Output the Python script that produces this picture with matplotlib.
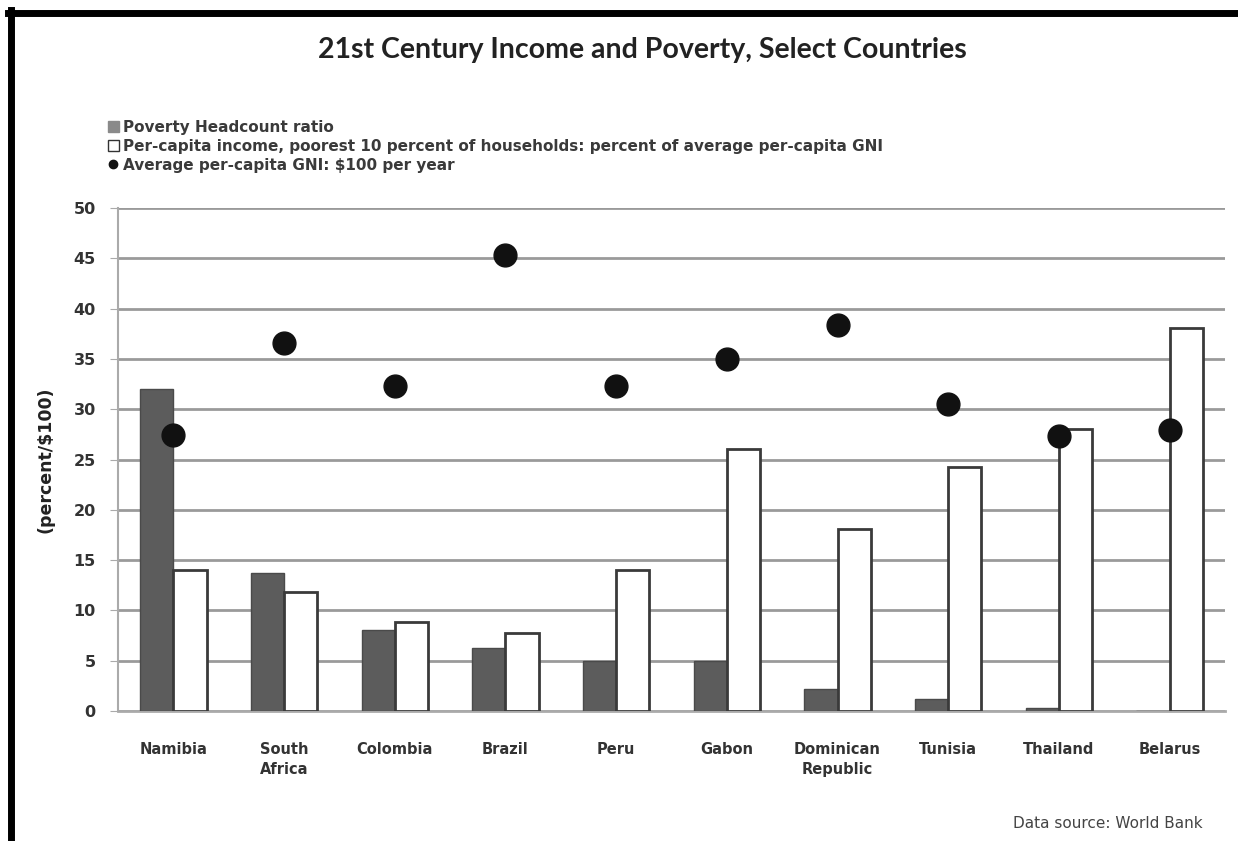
import matplotlib
matplotlib.use("Agg")
import matplotlib.pyplot as plt
import numpy as np
from matplotlib.lines import Line2D
from matplotlib.patches import Patch

plt.rcParams['font.family'] = ['DejaVu Sans']

countries = ["Namibia", "South\nAfrica", "Colombia", "Brazil", "Peru", "Gabon",
             "Dominican\nRepublic", "Tunisia", "Thailand", "Belarus"]
poverty_headcount = [32.0, 13.7, 8.1, 6.3, 5.0, 5.0, 2.2, 1.2, 0.3, 0.0]
poorest_income_share = [14.0, 11.8, 8.8, 7.8, 14.0, 26.0, 18.1, 24.3, 28.0, 38.1]
avg_gni_hundreds = [27.4, 36.6, 32.3, 45.3, 32.3, 35.0, 38.4, 30.5, 27.3, 27.9]
yticks = list(range(0, 55, 5))

fig = plt.figure(figsize=(12.38, 8.41), dpi=100)
ax = fig.add_axes([118 / 1238, 1 - 711 / 841, 1107 / 1238, 503 / 841])

x = np.arange(len(countries))
w = 0.3
ax.bar(x - w / 2, poverty_headcount, width=w, color="#5c5c5c", edgecolor="#4a4a4a",
       linewidth=1.0, zorder=3, label="Poverty Headcount ratio")
ax.bar(x + w / 2, poorest_income_share, width=w, color="white", edgecolor="#3a3a3a",
       linewidth=2.0, zorder=3,
       label="Per-capita income, poorest 10 percent of households: percent of average per-capita GNI")
ax.scatter(x, avg_gni_hundreds, s=270, color="#111111", zorder=4,
           label="Average per-capita GNI: $100 per year")

ax.set_xlim(-0.5, len(countries) - 0.5)
ax.set_ylim(0, 50)
ax.set_yticks(yticks)
ax.set_yticklabels([str(v) for v in yticks], fontsize=11.5, color="#333333",
                   fontweight="bold")
ax.set_xticks(x)
ax.set_xticklabels(countries, fontsize=10.5, color="#333333", fontweight="bold",
                   linespacing=1.45)
ax.tick_params(axis="y", length=6, color="#aaaaaa", pad=10)
ax.tick_params(axis="x", length=0, pad=22)
ax.yaxis.grid(True, color="#9a9a9a", linewidth=2.0, zorder=0)
for s in ["top", "right"]:
    ax.spines[s].set_visible(False)
ax.spines["left"].set_color("#aaaaaa")
ax.spines["left"].set_linewidth(1.5)
ax.spines["bottom"].set_color("#aaaaaa")
ax.spines["bottom"].set_linewidth(2.0)
ax.set_ylabel("(percent/$100)", fontsize=12.5, color="#222222", labelpad=14,
              fontweight="bold")

handles = [
    Patch(facecolor="#8a8a8a", edgecolor="#8a8a8a"),
    Patch(facecolor="white", edgecolor="#333333"),
    Line2D([], [], marker="o", linestyle="none", color="#111111", markersize=6),
]
labels = [
    "Poverty Headcount ratio",
    "Per-capita income, poorest 10 percent of households: percent of average per-capita GNI",
    "Average per-capita GNI: $100 per year",
]
leg = fig.legend(handles, labels, loc="upper left",
                 bbox_to_anchor=(108 / 1238, 1 - 120 / 841),
                 frameon=False, handlelength=0.7, handleheight=0.7,
                 handletextpad=0.3, labelspacing=0.25, borderpad=0, borderaxespad=0,
                 prop={"size": 11, "weight": "bold"})
for t in leg.get_texts():
    t.set_color("#3a3a3a")

fig.text(0.519, 1 - 50 / 841, "21st Century Income and Poverty, Select Countries",
         ha="center", va="center", fontsize=20.5, color="#222222",
         family="Lato", fontweight="bold")
fig.text(1203 / 1238, 1 - 823 / 841, "Data source: World Bank", ha="right",
         va="center", fontsize=11, color="#444444")

# frame lines along the top and left edges
fig.add_artist(Line2D([8 / 1238, 1.0], [1 - 13 / 841, 1 - 13 / 841],
                      transform=fig.transFigure, color="black", linewidth=5))
fig.add_artist(Line2D([11 / 1238, 11 / 1238], [1 - 10 / 841, 0.0],
                      transform=fig.transFigure, color="black", linewidth=5))

fig.savefig("out.png", dpi=100)
